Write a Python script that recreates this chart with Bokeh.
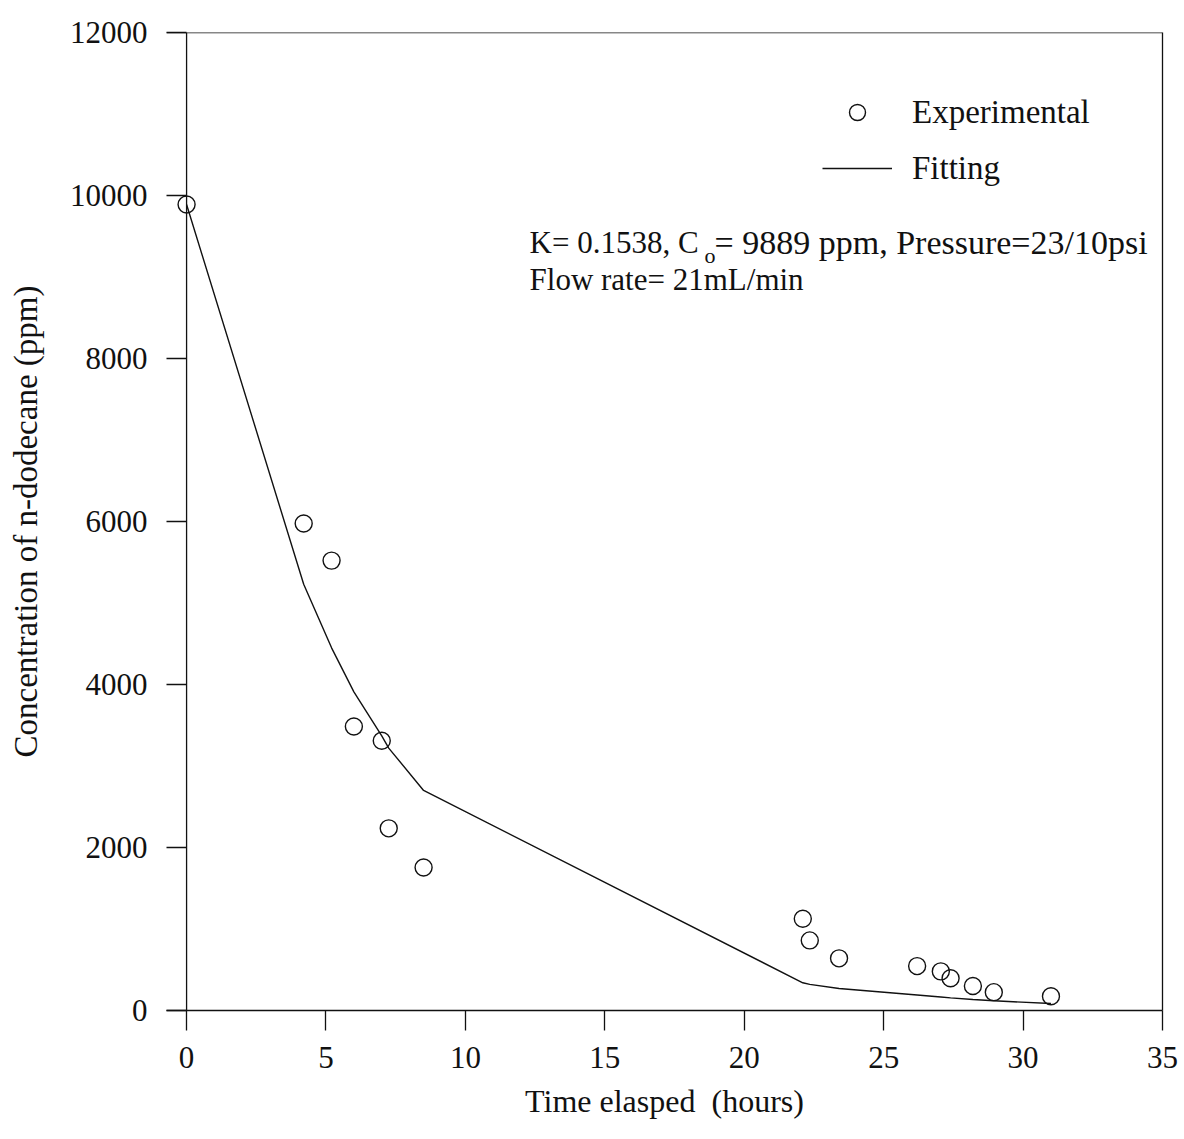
from bokeh.plotting import figure
from bokeh.models import Span, Label, Legend, LegendItem, FixedTicker, Range1d, LinearAxis
from bokeh.embed import file_html
from bokeh.resources import INLINE

# Data
time_h = [0.0, 4.2, 5.2, 6.0, 7.0, 7.25, 8.5, 22.1, 22.35, 23.4, 26.2, 27.05, 27.4, 28.2, 28.95, 31.0]
conc_ppm = [9890, 5975, 5520, 3485, 3310, 2235, 1755, 1125, 860, 640, 545, 480, 395, 300, 225, 175]
fit_ppm = [9889, 5230, 4450, 3910, 3370, 3220, 2700, 340, 320, 270, 190, 165, 155, 135, 120, 85]

x_ticks = [0, 5, 10, 15, 20, 25, 30, 35]
y_ticks = [0, 2000, 4000, 6000, 8000, 10000, 12000]

FONT = "Liberation Serif"
INK = "#111111"

p = figure(width=1184, height=1139, output_backend="svg", toolbar_location=None,
           x_range=Range1d(-0.72, 35), y_range=Range1d(0, 12000),
           min_border_left=166, min_border_right=22, min_border_top=32, min_border_bottom=129)
p.outline_line_color = None
p.xgrid.visible = False
p.ygrid.visible = False
p.background_fill_color = "white"
p.border_fill_color = "white"

# axes
xa = p.xaxis[0]
xa.ticker = FixedTicker(ticks=x_ticks)
xa.minor_tick_line_color = None
xa.major_tick_in = 0
xa.major_tick_out = 20
xa.major_label_standoff = 16
xa.axis_label = "Time elasped \u00a0(hours)"
xa.axis_label_standoff = 12

ya = p.yaxis[0]
ya.ticker = FixedTicker(ticks=y_ticks)
ya.minor_tick_line_color = None
ya.major_tick_in = 20
ya.major_tick_out = 0
ya.major_label_standoff = 19
ya.axis_label = "Concentration of n-dodecane (ppm)"
ya.axis_label_standoff = 23

for ax in (xa, ya):
    ax.major_label_text_font = FONT
    ax.major_label_text_font_size = "31px"
    ax.major_label_text_color = INK
    ax.axis_label_text_font = FONT
    ax.axis_label_text_font_style = "normal"
    ax.axis_label_text_color = INK
    ax.axis_line_width = 1.3
    ax.axis_line_color = INK
    ax.major_tick_line_width = 1.3
    ax.major_tick_line_color = INK
xa.axis_label_text_font_size = "32px"
ya.axis_label_text_font_size = "33px"
ya.axis_line_color = None

# right border as an axis without ticks
ra = LinearAxis(ticker=FixedTicker(ticks=[]), major_label_text_font_size="0px",
                major_tick_line_color=None, minor_tick_line_color=None,
                axis_line_color=INK, axis_line_width=1.3)
p.add_layout(ra, "right")

# y axis line at x=0 and top border
p.add_layout(Span(location=0, dimension="height", line_color=INK, line_width=1.3))
p.add_layout(Span(location=12000, dimension="width", line_color=INK, line_width=1.3))

fit_r = p.line(time_h, fit_ppm, line_color=INK, line_width=1.4)
exp_r = p.scatter(time_h, conc_ppm, marker="circle", size=17, fill_color=None,
                  line_color=INK, line_width=1.4)

legend = Legend(items=[LegendItem(label="Experimental", renderers=[exp_r]),
                       LegendItem(label="Fitting", renderers=[fit_r])],
                location=(656, 822), orientation="vertical",
                glyph_width=70, glyph_height=40, label_standoff=20, spacing=16,
                padding=0, margin=0, border_line_color=None,
                background_fill_alpha=0,
                label_text_font=FONT, label_text_font_size="33px",
                label_text_color=INK)
p.add_layout(legend)

# annotation text
def px2x(px):
    return (px - 186) / 27.886

def py2y(py):
    return (1010 - py) / 0.0815

p.add_layout(Label(x=px2x(529), y=py2y(242), text="K= 0.1538, C", text_font=FONT,
                   text_font_size="31px", text_baseline="middle", text_color=INK))
p.add_layout(Label(x=px2x(704), y=py2y(255), text="o", text_font=FONT,
                   text_font_size="22px", text_baseline="middle", text_color=INK))
p.add_layout(Label(x=px2x(714), y=py2y(242), text="= 9889 ppm, Pressure=23/10psi", text_font=FONT,
                   text_font_size="34px", text_baseline="middle", text_color=INK))
p.add_layout(Label(x=px2x(529), y=py2y(279), text="Flow rate= 21mL/min", text_font=FONT,
                   text_font_size="31px", text_baseline="middle", text_color=INK))

open("out.html", "w").write(file_html(p, INLINE))
